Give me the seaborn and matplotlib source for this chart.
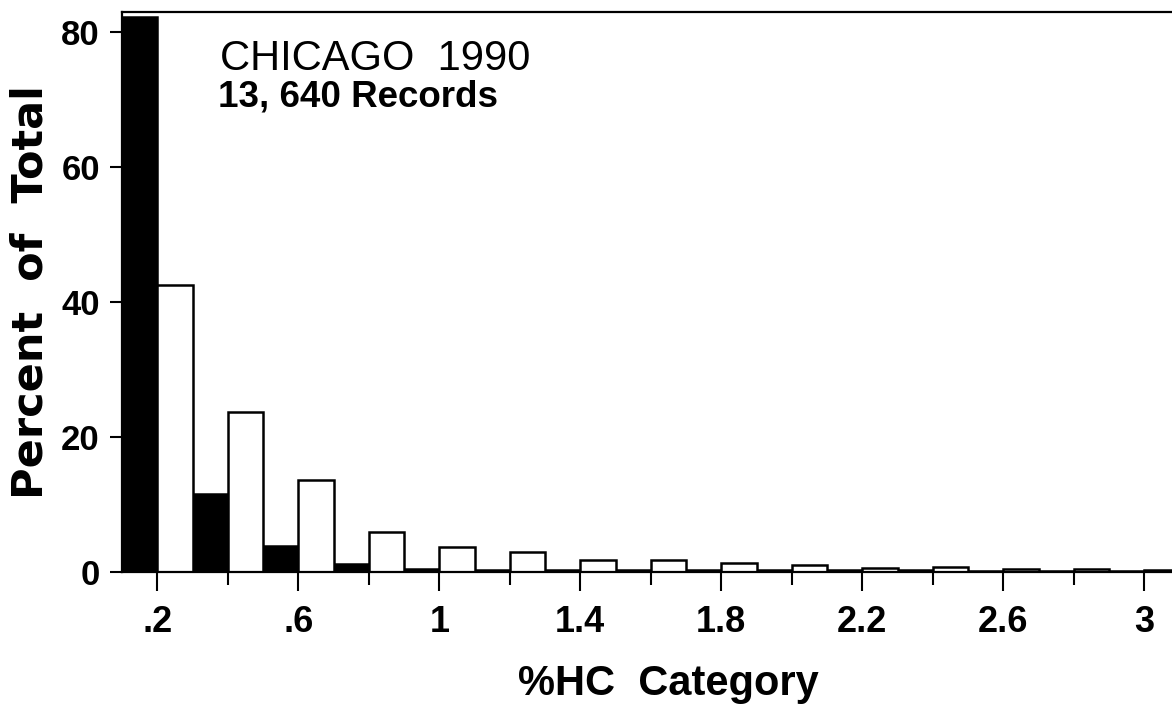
import matplotlib
matplotlib.use("Agg")
import matplotlib.pyplot as plt
import seaborn as sns
import pandas as pd
import numpy as np

# %HC category midpoints and percent of total for the two record groups
categories = [0.2, 0.4, 0.6, 0.8, 1.0, 1.2, 1.4, 1.6, 1.8, 2.0, 2.2, 2.4, 2.6, 2.8, 3.0]
pct_solid = [82.2, 11.6, 3.85, 1.2, 0.5, 0.35, 0.3, 0.3, 0.3, 0.3, 0.25, 0.25, 0.2, 0.2, 0.2]
pct_open = [42.5, 23.7, 13.6, 5.9, 3.7, 2.9, 1.8, 1.8, 1.3, 1.1, 0.6, 0.7, 0.45, 0.4, 0.3]
tick_labels = [".2", "", ".6", "", "1", "", "1.4", "", "1.8", "", "2.2", "", "2.6", "", "3"]
y_ticks = [0, 20, 40, 60, 80]

title_text = "CHICAGO  1990"
records_text = "13, 640 Records"

sns.set_theme(style="white")
plt.rcParams["font.family"] = ["Liberation Sans", "DejaVu Sans"]
for key in ["text.color", "axes.labelcolor", "xtick.color", "ytick.color"]:
    plt.rcParams[key] = "black"

cat_names = [f"{c:.1f}" for c in categories]
df = pd.DataFrame({
    "cat": cat_names * 2,
    "pct": pct_solid + pct_open,
    "group": ["solid"] * len(categories) + ["open"] * len(categories),
})

W, H = 1172, 706
fig = plt.figure(figsize=(W / 100, H / 100), dpi=100)
left_px, right_px, top_px, bottom_px = 122, 1178, 12, 572
ax = fig.add_axes([left_px / W, 1 - bottom_px / H,
                   (right_px - left_px) / W, (bottom_px - top_px) / H])

sns.barplot(data=df, x="cat", y="pct", hue="group", order=cat_names,
            hue_order=["solid", "open"],
            palette={"solid": "black", "open": "white"},
            edgecolor="black", linewidth=1.8, width=1.0, dodge=True,
            legend=False, ax=ax)

ax.set_xlim(-0.5, (right_px - 157.25) / 70.5)
ax.set_ylim(0, 82.96)

for s in ["left", "top", "bottom"]:
    ax.spines[s].set_color("black")
    ax.spines[s].set_linewidth(1.6)
ax.spines["right"].set_visible(False)

idx = np.arange(len(categories))
ax.set_xticks(idx[::2])
ax.set_xticklabels(tick_labels[::2], fontsize=26, fontweight="bold")
ax.set_xticks(idx[1::2], minor=True)
ax.tick_params(axis="x", which="major", direction="out", length=14, width=1.5,
               pad=10, bottom=True)
ax.tick_params(axis="x", which="minor", direction="out", length=9, width=1.5,
               bottom=True)

ax.set_yticks(y_ticks)
ax.set_yticklabels([str(v) for v in y_ticks], fontsize=25, fontweight="bold")
ax.tick_params(axis="y", direction="out", length=9, width=1.5, pad=7, left=True)

ax.set_xlabel("%HC  Category", fontsize=30, fontweight="bold")
ax.xaxis.set_label_coords((668 - left_px) / (right_px - left_px), -0.165)
ax.set_ylabel("Percent  of  Total", fontsize=31, fontweight="bold",
              family=["DejaVu Sans"])
ax.yaxis.set_label_coords(-0.067, 0.5)

fig.text(220 / W, 1 - 70 / H, title_text, fontsize=30,
         ha="left", va="baseline")
fig.text(218 / W, 1 - 107 / H, records_text, fontsize=26.5, fontweight="bold",
         ha="left", va="baseline")

fig.savefig("out.png", dpi=100)
